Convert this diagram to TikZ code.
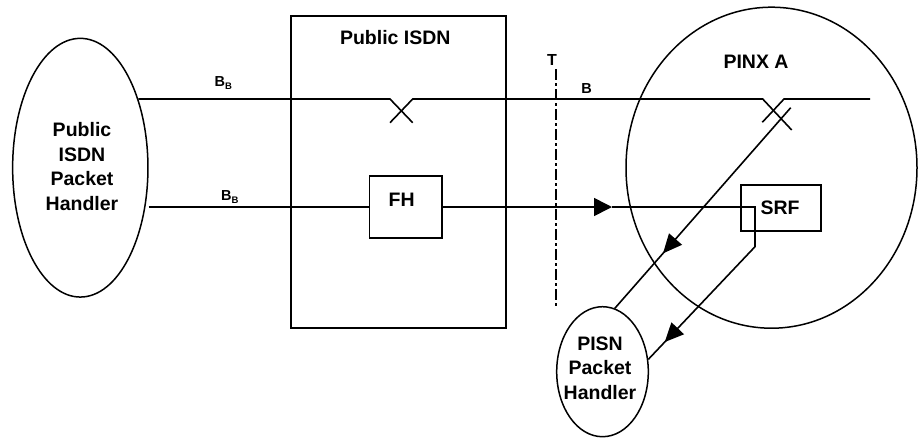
\documentclass[tikz,border=0pt]{standalone}
\usepackage{fontspec}
\setmainfont{Liberation Sans}
\usetikzlibrary{shapes.geometric,arrows.meta,decorations.markings}
\begin{document}
\begin{tikzpicture}[x=1pt,y=-1pt,
  conn/.style={line width=1.6pt},
  box/.style={draw, rectangle, line width=1.6pt, inner sep=0pt},
  oval/.style={draw, ellipse, line width=1.5pt, inner sep=0pt},
  lbl/.style={font=\bfseries\fontsize{19.5}{24.5}\selectfont, align=center, inner sep=0pt},
  small/.style={font=\bfseries\fontsize{14.5}{16}\selectfont, inner sep=0pt},
  tip/.style={-{Triangle[length=18pt,width=18pt]}},
  midarrow/.style={decoration={markings, mark=at position #1 with {\arrow{Triangle[length=19pt,width=17pt]}}}, postaction={decorate}}
]
\fill[white] (0,0) rectangle (918,437);
\useasboundingbox (0,0) rectangle (918,437);

% coordinates
\coordinate (s1a) at (390,99);
\coordinate (s1ad) at (412.7,122.7);
\coordinate (s1b) at (412.7,99);
\coordinate (s1bd) at (390,122.7);
\coordinate (s2a) at (762.7,99);
\coordinate (s2ad) at (791.7,130);
\coordinate (s2b) at (784,99);
\coordinate (s2bd) at (762.3,122.3);
\coordinate (tend) at (870,99);
\coordinate (ls) at (790.7,107.7);
\coordinate (m1) at (612,207);
\coordinate (c1) at (755,207);
\coordinate (c2) at (755,246.7);
\coordinate (t1) at (555.7,69);
\coordinate (t2) at (555.7,308);

% nodes
\node[oval, minimum width=135.3pt, minimum height=258.7pt] (lph) at (80.3,167.7) {};
\node[lbl] (lphtext) at (82,166.5) {Public\\ISDN\\Packet\\Handler};
\node[box, minimum width=215pt, minimum height=312pt] (isdn) at (398.5,171.7) {};
\node[lbl] (isdntitle) at (395.3,37.7) {Public ISDN};
\node[box, minimum width=72.7pt, minimum height=61.7pt] (fh) at (405.7,207) {};
\node[lbl] (fhtext) at (401.7,200) {FH};
\node[oval, minimum width=291pt, minimum height=321pt] (pinx) at (771.5,167.7) {};
\node[lbl] (pinxtext) at (756,61.7) {PINX A};
\node[box, minimum width=80pt, minimum height=46pt] (srf) at (780.7,208) {};
\node[lbl] (srftext) at (780,208) {SRF};
\node[oval, minimum width=91.6pt, minimum height=130pt] (pisn) at (602.5,371.7) {};
\node[lbl] (pisntext) at (600,368) {PISN\\Packet\\Handler};

\node[small] (bb1) at (223.3,83) {B\raisebox{-3pt}{\fontsize{9.5}{9.5}\selectfont B}};
\node[small] (bb2) at (229.8,196.7) {B\raisebox{-3pt}{\fontsize{9.5}{9.5}\selectfont B}};
\node[small] (blbl) at (586.7,88.3) {B};
\node[font=\bfseries\fontsize{16}{18}\selectfont, inner sep=0pt] (tlbl) at (552,60) {T};

% connectors
\draw[conn] (lph.50 |- s1a) -- (s1a) -- (s1ad);
\draw[conn] (s1bd) -- (s1b) -- (s2a) -- (s2ad);
\draw[conn] (s2bd) -- (s2b) -- (tend);
\draw[conn] (lph.east |- fh.west) -- (fh.west);
\draw[conn, tip] (fh.east) -- (m1);
\draw[conn] (m1) -- (c1) -- (c2);
\draw[conn, midarrow=0.846] (c2) -- (pisn.15);
\draw[conn, midarrow=0.726] (ls) -- (pisn.79);
\draw[conn, dash pattern=on 11pt off 3pt on 3pt off 3pt] (t1) -- (t2);
\end{tikzpicture}
\end{document}
